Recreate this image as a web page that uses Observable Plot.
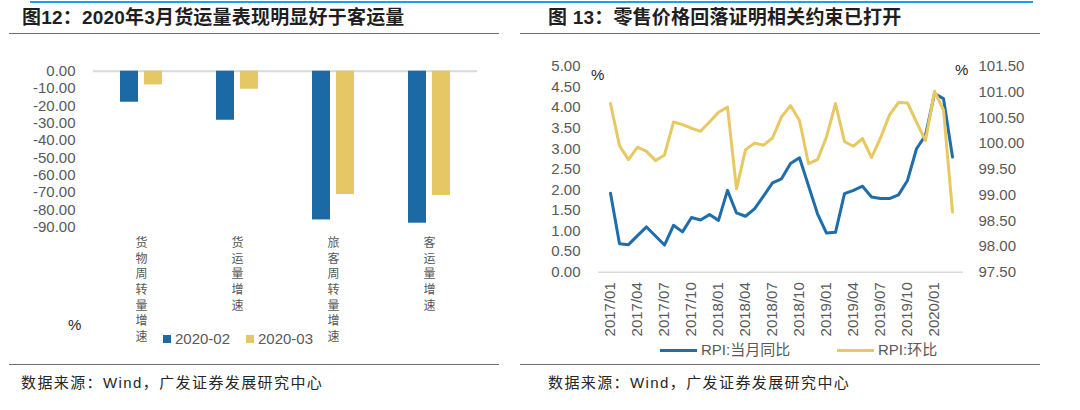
<!DOCTYPE html>
<html><head><meta charset="utf-8">
<script src="https://cdn.jsdelivr.net/npm/d3@7"></script>
<script src="https://cdn.jsdelivr.net/npm/@observablehq/plot@0.6"></script>
<style>
body{margin:0;width:1080px;height:410px;background:#fff;position:relative;overflow:hidden;font-family:"Liberation Sans",Arial,"Noto Sans CJK SC",sans-serif;}
.abs{position:absolute;white-space:nowrap;}
.title{font-size:19px;line-height:20px;font-weight:bold;color:#1f1f1f;letter-spacing:0.2px;}
.foot{font-size:15px;line-height:16px;color:#262626;letter-spacing:1.4px;}
.leg{font-size:15px;line-height:16px;color:#595959;}
.hl{position:absolute;height:0;}
#left,#right{position:absolute;top:40px;}
#left{left:0;} #right{left:520px;}
</style></head><body>
<div class="hl" style="left:30px;width:1003px;top:1px;border-top:2px solid #1ea0e2;"></div>
<div class="hl" style="left:9px;width:490px;top:33px;border-top:1.5px solid #6f6f6f;"></div>
<div class="hl" style="left:520px;width:520px;top:33px;border-top:1.5px solid #6f6f6f;"></div>
<div class="hl" style="left:9px;width:490px;top:364px;border-top:1.5px solid #6f6f6f;"></div>
<div class="hl" style="left:520px;width:520px;top:364px;border-top:1.5px solid #6f6f6f;"></div>
<div class="abs title" style="left:22px;top:8px;">图12：2020年3月货运量表现明显好于客运量</div>
<div class="abs title" style="left:548px;top:8px;">图 13：零售价格回落证明相关约束已打开</div>
<div class="abs foot" style="left:21px;top:375px;">数据来源：Wind，广发证券发展研究中心</div>
<div class="abs foot" style="left:548px;top:375px;">数据来源：Wind，广发证券发展研究中心</div>
<div id="left"></div>
<div id="right"></div>
<div id="legL"></div>
<div id="legR"></div>
<div class="abs leg" style="left:68px;top:317px;color:#262626;">%</div>
<div class="abs leg" style="left:591px;top:67px;color:#262626;">%</div>
<div class="abs leg" style="left:955px;top:62px;color:#262626;">%</div>
<script>
// ---------- data: left chart ----------
const categories = ["货物周转量增速", "货运量增速", "旅客周转量增速", "客运量增速"];
const seriesNames = ["2020-02", "2020-03"];
const values202002 = [-17.9, -28.3, -85.8, -87.7];
const values202003 = [-7.9, -10.4, -71.1, -71.7];
const barColors = ["#1b6aa5", "#e5c865"];
const leftTicks = [0, -10, -20, -30, -40, -50, -60, -70, -80, -90];

// ---------- data: right chart ----------
const months = ["2017/01","2017/02","2017/03","2017/04","2017/05","2017/06","2017/07","2017/08","2017/09","2017/10","2017/11","2017/12",
  "2018/01","2018/02","2018/03","2018/04","2018/05","2018/06","2018/07","2018/08","2018/09","2018/10","2018/11","2018/12",
  "2019/01","2019/02","2019/03","2019/04","2019/05","2019/06","2019/07","2019/08","2019/09","2019/10","2019/11","2019/12",
  "2020/01","2020/02","2020/03"];
const rpiYoY = [1.92,0.69,0.67,0.89,1.10,0.88,0.66,1.14,0.98,1.33,1.27,1.40,1.26,1.99,1.44,1.36,1.54,1.85,2.17,2.27,2.64,2.78,2.10,1.42,0.95,0.97,1.91,1.99,2.09,1.83,1.79,1.79,1.88,2.23,3.00,3.33,4.34,4.22,2.80];
const rpiMoM = [100.78,99.96,99.69,99.93,99.85,99.67,99.78,100.42,100.37,100.30,100.24,100.42,100.61,100.71,99.12,99.88,100.01,99.97,100.11,100.52,100.74,100.45,99.61,99.69,100.13,100.78,100.04,99.95,100.10,99.73,100.11,100.56,100.80,100.79,100.42,100.06,101.02,100.65,98.67];
const lineNames = ["RPI:当月同比", "RPI:环比"];
const lineColors = ["#1f6dab", "#e8c862"];
const rightLeftTicks = [0,0.5,1,1.5,2,2.5,3,3.5,4,4.5,5];
const rightRightTicks = [97.5,98,98.5,99,99.5,100,100.5,101,101.5];
const xTickLabels = ["2017/01","2017/04","2017/07","2017/10","2018/01","2018/04","2018/07","2018/10","2019/01","2019/04","2019/07","2019/10","2020/01"];

const tickColor = "#595959";

// ---------- left chart ----------
const barData = [];
categories.forEach((c, i) => {
  barData.push({cat: c, series: seriesNames[0], value: values202002[i]});
  barData.push({cat: c, series: seriesNames[1], value: values202003[i]});
});

const left = Plot.plot({
  width: 520, height: 320,
  marginTop: 30.7, marginBottom: 133.3, marginLeft: 92, marginRight: 43,
  style: {background: "transparent", overflow: "visible", fontFamily: "'Liberation Sans', Arial, 'Noto Sans CJK SC', sans-serif"},
  fx: {domain: categories, padding: 0, axis: null, label: null},
  x: {domain: seriesNames, paddingInner: 0.27, paddingOuter: 1.1, axis: null, label: null},
  y: {domain: [-90, 0], axis: null, label: null},
  color: {domain: seriesNames, range: barColors},
  marks: [
    Plot.ruleY([0], {stroke: "#d9d9d9", strokeWidth: 2}),
    Plot.barY(barData, {fx: "cat", x: "series", y: "value", fill: "series"}),
    Plot.axisY({ticks: leftTicks, tickFormat: d => d.toFixed(2), tickSize: 0, tickPadding: 18, fontSize: 15, color: tickColor, label: null}),
    Plot.axisFx({anchor: "bottom", tickSize: 0, tickPadding: 9, tickFormat: d => d.split("").join("\n"), label: null,
      fontSize: 12, lineHeight: 1.3, color: tickColor, fontFamily: "'Noto Sans CJK SC', sans-serif"})
  ]
});
document.getElementById("left").appendChild(left);

// left legend
const legL = document.getElementById("legL");
const legLPos = [163, 246];
seriesNames.forEach((s, i) => {
  const sw = document.createElement("div");
  sw.className = "abs";
  sw.style.cssText = `left:${legLPos[i]}px;top:335px;width:8px;height:8px;background:${barColors[i]};`;
  legL.appendChild(sw);
  const t = document.createElement("div");
  t.className = "abs leg";
  t.style.cssText = `left:${legLPos[i] + 12}px;top:331px;`;
  t.textContent = s;
  legL.appendChild(t);
});

// ---------- right chart ----------
const lo = 97.5, ratio = 5 / (101.5 - 97.5);
const toLeft = v => (v - lo) * ratio;
const fromLeft = v => v / ratio + lo;
const lineData = months.map((m, i) => ({m, yoy: rpiYoY[i], mom: rpiMoM[i]}));

const right = Plot.plot({
  width: 560, height: 320,
  marginTop: 26, marginBottom: 88.3, marginLeft: 78, marginRight: 117,
  style: {background: "transparent", overflow: "visible", fontFamily: "'Liberation Sans', Arial, sans-serif"},
  x: {type: "point", domain: months, padding: 0.5, axis: null, label: null},
  y: {domain: [0, 5], axis: null, label: null},
  marks: [
    Plot.ruleY([0], {stroke: "#d9d9d9", strokeWidth: 1.5}),
    Plot.lineY(lineData, {x: "m", y: "yoy", stroke: lineColors[0], strokeWidth: 3}),
    Plot.lineY(lineData, {x: "m", y: d => toLeft(d.mom), stroke: lineColors[1], strokeWidth: 3}),
    Plot.axisY({ticks: rightLeftTicks, tickFormat: d => d.toFixed(2), tickSize: 0, tickPadding: 18, fontSize: 15, color: tickColor, label: null}),
    Plot.axisY({anchor: "right", ticks: rightRightTicks.map(toLeft), tickFormat: d => fromLeft(d).toFixed(2), tickSize: 0, tickPadding: 15, fontSize: 15, color: tickColor, label: null}),
    Plot.axisX({ticks: xTickLabels, tickRotate: -90, tickSize: 0, tickPadding: 10, fontSize: 15, color: tickColor, textAnchor: "end", label: null})
  ]
});
document.getElementById("right").appendChild(right);

// right legend
const legR = document.getElementById("legR");
const legRPos = [660, 837];
lineNames.forEach((s, i) => {
  const ln = document.createElement("div");
  ln.className = "abs";
  ln.style.cssText = `left:${legRPos[i]}px;top:348.5px;width:37px;height:3px;background:${lineColors[i]};`;
  legR.appendChild(ln);
  const t = document.createElement("div");
  t.className = "abs leg";
  t.style.cssText = `left:${legRPos[i] + 41}px;top:342px;`;
  t.textContent = s;
  legR.appendChild(t);
});
</script>
</body></html>
